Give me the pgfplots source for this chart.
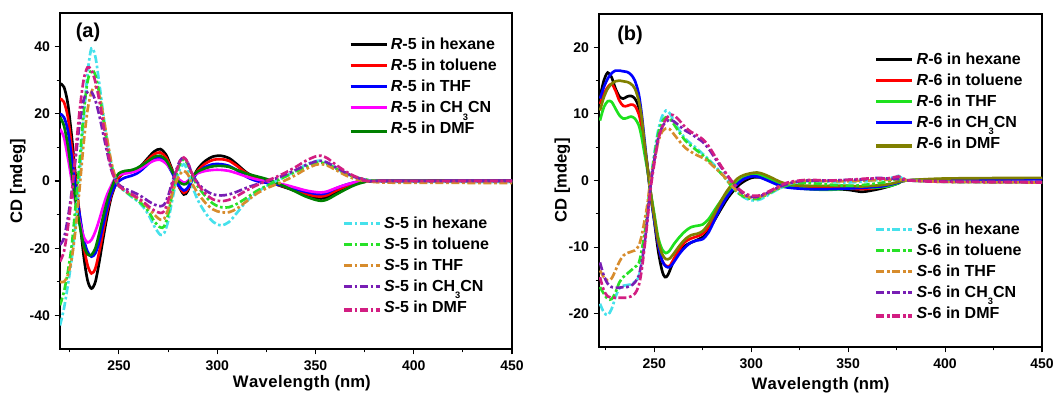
\documentclass[border=0pt]{standalone}
\usepackage{pgfplots}
\pgfplotsset{compat=1.18}
\usepackage{fontspec}
\setmainfont{Liberation Sans}

% curve colours
\definecolor{cBlack}{RGB}{0,0,0}
\definecolor{cRed}{RGB}{255,0,0}
\definecolor{cBlue}{RGB}{0,0,255}
\definecolor{cMag}{RGB}{255,0,255}
\definecolor{cDGreen}{RGB}{0,128,0}
\definecolor{cGreen}{RGB}{30,225,30}
\definecolor{cOlive}{RGB}{128,128,0}
\definecolor{cCyan}{RGB}{70,225,235}
\definecolor{cLGreen}{RGB}{40,225,40}
\definecolor{cOrange}{RGB}{215,140,45}
\definecolor{cPurple}{RGB}{120,30,180}
\definecolor{cPink}{RGB}{210,30,130}

\newcommand{\sub}[1]{\raisebox{-0.9ex}{\fontsize{7}{7}\selectfont #1}}
% last legend row sits a little lower (below the subscripted entry)
\newcommand{\low}[1]{\raisebox{-4pt}{#1}}

\pgfplotsset{
  cdpanel/.style={
    scale only axis,
    axis line style={line width=0.8pt},
    tick align=outside, xtick pos=left, ytick pos=left,
    major tick length=4pt, minor tick length=2.5pt,
    tick style={black, line width=0.8pt},
    xmax=450, xtick={250,300,350,400,450},
    minor xtick={225,275,325,375,425},
    /pgf/number format/assume math mode=true,
    ticklabel style={font=\bfseries\fontsize{10.5}{11}\selectfont},
    xticklabel style={yshift=-1pt},
    label style={font=\bfseries\fontsize{12.5}{13}\selectfont},
    xlabel={W\kern0.3pt a\kern0.3pt v\kern0.3pt e\kern0.3pt l\kern0.3pt e\kern0.3pt n\kern0.3pt g\kern0.3pt t\kern0.3pt h (nm)},
    ylabel={CD [mdeg]},
    legend style={draw=none, fill=none, font=\bfseries\fontsize{12}{12.5}\selectfont,
      legend cell align=left, row sep=1.5pt, anchor=north west},
    legend image code/.code={\draw[#1, line width=2.4pt] (0pt,0pt) -- (27pt,0pt);},
  },
  lowentry/.style={legend image code/.code={\draw[##1, line width=2.4pt] (0pt,-4pt) -- (27pt,-4pt);}},
  Rl/.style={line width=2pt, smooth, tension=0.5},
  Sl/.style={line width=2pt, smooth, tension=0.5, dash pattern=on 6pt off 2pt on 2pt off 2pt},
}

\begin{document}
\begin{tikzpicture}
\useasboundingbox (0,0) rectangle (798pt,295.5pt);

% ---------------- panel (a): compound 5 ----------------
\begin{axis}[cdpanel,
  at={(45pt,33.75pt)}, anchor=south west,
  width=339pt, height=252pt,
  xmin=220, ymin=-50, ymax=50,
  ytick={-40,-20,0,20,40}, minor ytick={-30,-10,10,30},
  xlabel style={at={(axis description cs:0.535,-0.103)}, anchor=center},
  ylabel style={at={(axis description cs:-0.093,0.5)}, anchor=center},
  legend style={at={(axis description cs:0.63,0.942)}},
]
\addplot[Rl, cBlack] coordinates {(220,29) (222,28) (224,23) (226,13) (228,1) (230,-11) (232,-22) (234,-29.5) (236,-32) (238,-30) (240,-24) (242,-17) (244,-10.5) (246,-5) (248,-1.5) (250,1) (253,2.5) (256,3) (259,3.5) (262,5) (265,7) (268,8.8) (271,9.5) (274,7.8) (277,3.5) (280,-1) (283,-4) (285,-3) (287,0) (290,3.5) (294,6) (298,7.3) (302,7.5) (306,6.8) (310,5) (315,2.5) (320,1) (325,0) (330,-1) (335,-2) (340,-3) (345,-4.2) (350,-5) (353,-5.2) (356,-4.8) (360,-3.5) (365,-2) (370,-0.8) (375,-0.2) (380,0) (390,0) (400,0) (420,0) (450,0.1)};
\addlegendentry{\textit{R}-5 in hexane}
\addplot[Rl, cRed] coordinates {(220,24.5) (222,23.5) (224,19) (226,10) (228,0) (230,-10) (232,-19) (234,-25) (236,-27.5) (238,-26) (240,-21) (242,-15) (244,-9) (246,-4.5) (248,-1.3) (250,1.2) (253,2.6) (256,3) (259,3.5) (262,4.8) (265,6.5) (268,8) (271,8.5) (274,7) (277,3.2) (280,-1) (283,-3.5) (285,-2.5) (287,0) (290,3) (294,5.2) (298,6.3) (302,6.5) (306,6) (310,4.5) (315,2.3) (320,1) (325,0) (330,-1) (335,-1.8) (340,-2.8) (345,-3.8) (350,-4.5) (353,-4.6) (356,-4.2) (360,-3) (365,-1.7) (370,-0.7) (375,-0.2) (380,0) (450,0.1)};
\addlegendentry{\textit{R}-5 in toluene}
\addplot[Rl, cBlue] coordinates {(220,20) (222,19) (224,15) (226,7) (228,-2) (230,-10) (232,-17) (234,-21) (236,-22.5) (238,-21.5) (240,-18) (242,-13) (244,-8) (246,-4) (248,-1.5) (250,0) (253,1) (256,1.5) (259,2.2) (262,3.5) (265,5.2) (268,6.5) (271,6.8) (274,5.5) (277,2.5) (280,-1) (283,-2.8) (285,-2) (287,0) (290,2.5) (294,4.2) (298,5) (302,5) (306,4.5) (310,3.2) (315,1.2) (320,0) (325,-0.5) (330,-1) (335,-1.6) (340,-2.4) (345,-3.2) (350,-3.8) (353,-3.9) (356,-3.5) (360,-2.3) (365,-1.2) (370,-0.4) (375,0) (380,0) (450,0.1)};
\addlegendentry{\textit{R}-5 in THF}
\addplot[Rl, cMag] coordinates {(220,15.5) (222,13) (224,7) (226,0) (228,-7) (230,-12) (232,-16.5) (234,-18.3) (236,-17.5) (238,-15) (240,-11.5) (242,-7.5) (244,-4) (246,-1.5) (248,0.8) (250,1.8) (253,2.2) (256,2.5) (259,3) (262,4) (265,5.2) (268,6.1) (271,6.3) (274,5.2) (277,3) (280,0.8) (283,-0.5) (285,0) (287,1.2) (290,2.3) (294,3) (298,3.3) (302,3.3) (306,3) (310,2.3) (315,1.3) (320,0.5) (325,0) (330,-0.6) (335,-1.2) (340,-2) (345,-2.8) (350,-3.3) (353,-3.4) (356,-3.1) (360,-2.2) (365,-1.2) (370,-0.4) (375,0) (380,0) (450,0.1)};
\addlegendentry{\textit{R}-5 in CH\sub{3}CN}
\addplot[Rl, cDGreen, lowentry] coordinates {(220,19) (222,16.5) (224,10.5) (226,2) (228,-6) (230,-13) (232,-19) (234,-21.8) (236,-22) (238,-20) (240,-15.5) (242,-10.5) (244,-6) (246,-2.5) (248,0.5) (250,2.3) (253,3) (256,3.2) (259,3.8) (262,4.8) (265,6) (268,7.2) (271,7.5) (274,6.2) (277,3) (280,0) (283,-1) (285,-0.5) (287,1.2) (290,2.8) (294,3.8) (298,4.4) (302,4.5) (306,4.2) (310,3.3) (315,2.2) (320,1.4) (325,0.6) (330,-0.5) (335,-1.8) (340,-3.2) (345,-4.6) (350,-5.6) (353,-5.9) (356,-5.5) (360,-4.2) (365,-2.6) (370,-1.2) (375,-0.3) (380,0) (450,0)};
\addlegendentry{\low{\textit{R}-5 in DMF}}
\addplot[Sl, cCyan, forget plot] coordinates {(220,-43) (222,-38) (224,-31) (226,-23) (228,-12) (230,2) (232,18) (234,32) (236,39.5) (238,37) (240,29) (242,20) (244,12) (246,5.5) (248,1) (250,-1.5) (253,-3) (256,-4.5) (259,-5.8) (262,-7.5) (265,-10) (268,-13.5) (271,-16) (273,-15.5) (275,-12) (277,-6) (279,-0.5) (281,3.5) (283,5) (285,3) (287,-1) (290,-5.5) (294,-9.5) (298,-12.2) (302,-13.2) (306,-12.2) (310,-9.5) (315,-6) (320,-3.5) (325,-1.5) (330,0) (335,1.5) (340,3) (345,4.8) (350,5.9) (353,6) (356,5.3) (360,4) (365,2.3) (370,1.1) (375,0.4) (380,0) (390,-0.2) (450,-0.3)};
\addplot[Sl, cLGreen, forget plot] coordinates {(220,-37) (222,-33) (224,-27) (226,-19) (228,-7) (230,6) (232,20) (234,29.5) (236,33) (238,31.5) (240,26) (242,18.5) (244,11) (246,5) (248,1) (250,-1.5) (253,-3) (256,-4.2) (259,-5.5) (262,-7) (265,-9) (268,-12) (271,-13.8) (273,-13.5) (275,-10) (277,-4) (279,1.5) (281,5) (283,6.5) (285,5) (287,2) (290,-1.5) (294,-4.5) (298,-6.8) (302,-7.8) (306,-7.8) (310,-6.8) (315,-5) (320,-3) (325,-1.5) (330,0) (335,1.4) (340,2.8) (345,4.2) (350,5.3) (353,5.5) (356,5) (360,3.8) (365,2.3) (370,1.2) (375,0.5) (380,0.1) (390,-0.2) (450,-0.3)};
\addplot[Sl, cOrange, forget plot] coordinates {(220,-30) (222,-30) (224,-28) (226,-23) (228,-14) (230,-2) (232,11) (234,21) (236,26.5) (238,28) (240,25.5) (242,19.5) (244,12.5) (246,6) (248,1.5) (250,-1) (253,-2.8) (256,-4) (259,-5) (262,-6.3) (265,-8) (268,-10) (271,-11.5) (273,-11.2) (275,-8.5) (277,-4) (279,-0.5) (281,2) (283,3) (285,2) (287,-0.5) (290,-3.5) (294,-6.5) (298,-8.5) (302,-9.3) (306,-9.3) (310,-8.2) (315,-6) (320,-3.8) (325,-2.2) (330,-1) (335,0.3) (340,1.8) (345,3.5) (350,4.8) (353,5) (356,4.6) (360,3.4) (365,1.8) (370,0.6) (375,0) (380,-0.3) (390,-0.5) (450,-0.6)};
\addplot[Sl, cPurple, forget plot] coordinates {(220,-19) (222,-17) (224,-11) (226,-3) (228,7) (230,17) (232,24) (234,26.5) (236,26.5) (238,24) (240,19.5) (242,14) (244,8.5) (246,3.5) (248,0.5) (250,-1.2) (253,-2.2) (256,-3) (259,-3.8) (262,-4.8) (265,-6) (268,-7) (271,-7.5) (273,-7) (275,-4.5) (277,-0.5) (279,3) (281,6) (283,7) (285,5.5) (287,2.5) (290,-0.5) (294,-2.8) (298,-4) (302,-4.3) (306,-4) (310,-3.2) (315,-2) (320,-1) (325,0) (330,0.8) (335,2) (340,3.3) (345,4.7) (350,5.8) (353,6) (356,5.5) (360,4.2) (365,2.6) (370,1.2) (375,0.4) (380,0) (450,0)};
\addplot[Sl, cPink, forget plot] coordinates {(220,-24) (222,-21) (224,-14) (226,-4) (228,9) (230,21) (232,30) (234,33.8) (236,33) (238,29.5) (240,24) (242,17) (244,10) (246,4) (248,0.5) (250,-1.5) (253,-2.8) (256,-3.8) (259,-4.8) (262,-6) (265,-7.5) (268,-8.8) (271,-9.5) (273,-9) (275,-6) (277,-1.5) (279,2.5) (281,5.8) (283,7) (285,5.5) (287,2.5) (290,-0.8) (294,-3.8) (298,-5.5) (302,-6) (306,-5.6) (310,-4.5) (315,-2.8) (320,-1.3) (325,0) (330,1.2) (335,2.6) (340,4.2) (345,6) (350,7.3) (353,7.5) (356,6.8) (360,5) (365,3) (370,1.4) (375,0.5) (380,0) (450,0)};
\node[font=\bfseries\fontsize{15}{16}\selectfont] at (axis description cs:0.062,0.943) {(a)};
\end{axis}
% second legend of panel (a)
\begin{axis}[cdpanel, hide axis,
  at={(45pt,33.75pt)}, anchor=south west,
  width=339pt, height=252pt,
  xmin=220, ymin=-50, ymax=50,
  legend style={at={(axis description cs:0.615,0.41)}},
]
\addlegendimage{Sl, cCyan}   \addlegendentry{\textit{S}-5 in hexane}
\addlegendimage{Sl, cLGreen} \addlegendentry{\textit{S}-5 in toluene}
\addlegendimage{Sl, cOrange} \addlegendentry{\textit{S}-5 in THF}
\addlegendimage{Sl, cPurple} \addlegendentry{\textit{S}-5 in CH\sub{3}CN}
\addlegendimage{Sl, cPink, lowentry} \addlegendentry{\low{\textit{S}-5 in DMF}}
\end{axis}

% ---------------- panel (b): compound 6 ----------------
\begin{axis}[cdpanel,
  at={(449.25pt,35.25pt)}, anchor=south west,
  width=332.25pt, height=249.75pt,
  xmin=221.5, ymin=-25, ymax=25,
  ytick={-20,-10,0,10,20}, minor ytick={-15,-5,5,15},
  xlabel style={at={(axis description cs:0.5,-0.116)}, anchor=center},
  ylabel style={at={(axis description cs:-0.083,0.5)}, anchor=center},
  legend style={at={(axis description cs:0.613,0.9)}},
]
\addplot[Rl, cBlack] coordinates {(222,12.5) (224,15) (226,16.2) (228,15.5) (230,13.8) (232,12.6) (234,12.3) (236,12.6) (238,12.7) (240,12.3) (242,11) (243.5,8.5) (245,5) (246.5,2) (248,-1.5) (250,-6) (252,-10.5) (254,-13.5) (255.5,-14.5) (257,-14.2) (259,-12.8) (261,-11.5) (264,-10.3) (267,-9.6) (270,-9.2) (273,-8.8) (276,-8.3) (279,-7) (282,-5.5) (285,-4) (288,-2.6) (291,-1.5) (294,-0.6) (297,0) (300,0.4) (303,0.5) (306,0.4) (310,0) (315,-0.6) (320,-1) (330,-1.1) (340,-1.2) (350,-1.4) (357,-1.7) (362,-1.5) (367,-1.2) (372,-0.8) (376,-0.4) (380,0) (400,0.1) (450,0.3)};
\addlegendentry{\textit{R}-6 in hexane}
\addplot[Rl, cRed] coordinates {(222,11.5) (224,13) (226,14) (228,14.5) (230,13.5) (232,12) (234,11.2) (236,11.2) (238,11.4) (240,11.2) (242,10) (243.5,8) (245,5) (246.5,2) (248,-1.5) (250,-5.5) (252,-9.5) (254,-12) (256,-12.8) (258,-12.8) (260,-11.8) (263,-10.3) (266,-9.2) (269,-8.7) (272,-8.4) (275,-8) (278,-7) (281,-5.5) (284,-4) (287,-2.6) (290,-1.4) (293,-0.5) (296,0.2) (300,0.7) (303,0.8) (306,0.6) (310,0.1) (315,-0.5) (320,-0.9) (330,-1.1) (340,-1.1) (350,-1.2) (357,-1.3) (362,-1.2) (367,-1) (372,-0.7) (376,-0.3) (380,0) (400,0.1) (450,0.3)};
\addlegendentry{\textit{R}-6 in toluene}
\addplot[Rl, cGreen] coordinates {(222,9) (224,11) (226,11.9) (228,11.8) (230,10.8) (232,9.8) (234,9.3) (236,9.4) (238,9.6) (240,9.3) (242,8.3) (243.5,6.5) (245,4) (246.5,1.5) (248,-1.5) (250,-5) (252,-8.5) (254,-10.3) (256,-10.9) (258,-10.5) (260,-9.6) (263,-8.5) (266,-7.6) (269,-7) (272,-6.8) (275,-6.6) (278,-5.8) (281,-4.5) (284,-3.2) (287,-2) (290,-1) (293,-0.2) (296,0.4) (300,0.8) (303,0.9) (306,0.7) (310,0.1) (315,-0.6) (320,-1) (330,-1.3) (340,-1.4) (350,-1.2) (357,-1) (362,-1.1) (367,-1) (372,-0.8) (376,-0.4) (380,0) (400,0.2) (450,0.3)};
\addlegendentry{\textit{R}-6 in THF}
\addplot[Rl, cBlue] coordinates {(222,12.3) (224,14) (226,15.3) (228,16.1) (230,16.5) (232,16.5) (234,16.4) (236,16.3) (238,15.9) (240,15) (242,13) (243.5,10) (245,6) (246.5,2) (248,-2) (250,-6) (252,-9.5) (254,-12) (256,-12.9) (258,-13) (260,-12.3) (263,-11) (266,-10) (269,-9.3) (272,-9) (275,-8.8) (278,-7.8) (281,-6) (284,-4.2) (287,-2.7) (290,-1.5) (293,-0.5) (296,0.2) (300,0.6) (303,0.6) (306,0.3) (310,-0.2) (315,-0.8) (320,-1.1) (330,-1.3) (340,-1.3) (350,-1.2) (357,-1.1) (362,-1) (367,-0.9) (372,-0.6) (376,-0.3) (380,0) (400,0.1) (450,0.2)};
\addlegendentry{\textit{R}-6 in CH\sub{3}CN}
\addplot[Rl, cOlive, lowentry] coordinates {(222,10.5) (224,12.5) (226,13.8) (228,14.5) (230,14.9) (232,15) (234,14.9) (236,14.8) (238,14.5) (240,13.8) (242,12) (243.5,9.5) (245,5.5) (246.5,2) (248,-1.8) (250,-5.5) (252,-9) (254,-11) (256,-11.8) (258,-11.7) (260,-11) (263,-9.8) (266,-8.8) (269,-8.2) (272,-8) (275,-7.6) (278,-6.5) (281,-5) (284,-3.3) (287,-1.8) (290,-0.6) (293,0.3) (296,0.8) (300,1.1) (303,1.2) (306,1) (310,0.5) (315,-0.2) (320,-0.6) (330,-0.8) (340,-0.8) (350,-0.8) (357,-0.9) (362,-0.8) (367,-0.7) (372,-0.5) (376,-0.2) (380,0) (400,0.3) (450,0.4)};
\addlegendentry{\low{\textit{R}-6 in DMF}}
\addplot[Sl, cCyan, forget plot] coordinates {(222,-18.5) (224,-19.8) (226,-20.2) (228,-19.3) (230,-17.5) (232,-16.2) (234,-15.8) (236,-15.7) (238,-15.6) (240,-15.2) (242,-14.5) (243.5,-12) (245,-9) (246.5,-5) (248,-0.5) (250,4) (252,7.5) (254,9.6) (256,10.5) (258,10.1) (260,9) (263,7.5) (266,6.3) (269,5.5) (272,4.8) (275,4) (278,3.2) (281,2.3) (284,1.3) (287,0.3) (290,-0.8) (293,-1.8) (296,-2.5) (299,-2.9) (302,-3) (305,-2.8) (308,-2.3) (312,-1.6) (316,-1) (320,-0.5) (325,-0.2) (330,-0.1) (340,-0.2) (350,-0.3) (360,-0.1) (368,0.2) (374,0.5) (376,0.7) (378,0.3) (382,0) (400,-0.2) (450,-0.3)};
\addplot[Sl, cLGreen, forget plot] coordinates {(222,-16) (224,-17) (226,-17.8) (228,-17.8) (230,-16.8) (232,-15.3) (234,-14.5) (236,-14) (238,-13.5) (240,-13) (242,-12.4) (243.5,-10.5) (245,-8) (246.5,-4.5) (248,-0.5) (250,3.5) (252,7) (254,8.8) (256,9.5) (258,9.3) (260,8.5) (263,7.2) (266,6) (269,5.2) (272,4.5) (275,3.8) (278,3) (281,2.1) (284,1.2) (287,0.2) (290,-0.9) (293,-1.8) (296,-2.4) (299,-2.7) (302,-2.8) (305,-2.6) (308,-2.1) (312,-1.5) (316,-1) (320,-0.6) (325,-0.4) (330,-0.4) (340,-0.6) (350,-0.8) (360,-0.6) (368,-0.3) (374,0.1) (378,0.1) (382,0) (400,-0.2) (450,-0.3)};
\addplot[Sl, cOrange, forget plot] coordinates {(222,-13.5) (224,-14.5) (226,-15) (228,-14.7) (230,-13.5) (232,-12.2) (234,-11.3) (236,-10.9) (238,-10.7) (240,-10.5) (242,-9.8) (243.5,-8.3) (245,-6) (246.5,-3.5) (248,0) (250,3) (252,5.8) (254,7.3) (256,7.8) (258,7.7) (260,7) (263,5.9) (266,4.9) (269,4.3) (272,3.8) (275,3.4) (278,2.8) (281,2) (284,1.2) (287,0.3) (290,-0.8) (293,-1.6) (296,-2.2) (299,-2.5) (302,-2.6) (305,-2.4) (308,-2) (312,-1.4) (316,-0.8) (320,-0.4) (325,-0.1) (330,0) (340,-0.1) (350,-0.1) (360,0) (368,0.1) (374,0.1) (378,0.1) (382,0) (400,-0.2) (450,-0.3)};
\addplot[Sl, cPurple, forget plot] coordinates {(222,-12.3) (224,-14.3) (226,-15.5) (228,-16) (230,-16.1) (232,-16.1) (234,-16) (236,-16) (238,-15.8) (240,-15.3) (242,-14.3) (243.5,-12.3) (245,-9.5) (246.5,-5.5) (248,-1) (250,3) (252,6.3) (254,8) (256,8.8) (258,9.1) (260,8.9) (263,8.2) (266,7.5) (269,7) (272,6.4) (275,5.8) (278,4.8) (281,3.5) (284,2.2) (287,1) (290,-0.2) (293,-1.2) (296,-2) (299,-2.4) (302,-2.5) (305,-2.3) (308,-1.9) (312,-1.3) (316,-0.8) (320,-0.4) (325,-0.1) (330,0) (340,0) (350,0.1) (360,0.2) (365,0.4) (370,0.3) (376,0.2) (382,0) (400,-0.1) (450,-0.2)};
\addplot[Sl, cPink, forget plot] coordinates {(222,-14.5) (224,-16.5) (226,-17.4) (228,-17.6) (230,-17.6) (232,-17.6) (234,-17.6) (236,-17.6) (238,-17.4) (240,-17) (242,-15.8) (243.5,-13.5) (245,-10) (246.5,-6) (248,-1.5) (250,2.5) (252,6) (254,8) (256,9.2) (258,9.8) (260,9.8) (263,9) (266,8) (269,7.3) (272,6.8) (275,6.2) (278,5.2) (281,3.8) (284,2.4) (287,1.1) (290,-0.1) (293,-1.1) (296,-1.8) (299,-2.2) (302,-2.3) (305,-2.2) (308,-1.8) (312,-1.2) (316,-0.6) (320,-0.2) (325,0) (330,0.1) (340,0) (350,0.1) (360,0.3) (365,0.3) (370,0.3) (376,0.6) (378,0.4) (382,0) (400,-0.2) (450,-0.3)};
\node[font=\bfseries\fontsize{15}{16}\selectfont] at (axis description cs:0.07,0.937) {(b)};
\end{axis}
% second legend of panel (b)
\begin{axis}[cdpanel, hide axis,
  at={(449.25pt,35.25pt)}, anchor=south west,
  width=332.25pt, height=249.75pt,
  xmin=221.5, ymin=-25, ymax=25,
  legend style={at={(axis description cs:0.613,0.39)}},
]
\addlegendimage{Sl, cCyan}   \addlegendentry{\textit{S}-6 in hexane}
\addlegendimage{Sl, cLGreen} \addlegendentry{\textit{S}-6 in toluene}
\addlegendimage{Sl, cOrange} \addlegendentry{\textit{S}-6 in THF}
\addlegendimage{Sl, cPurple} \addlegendentry{\textit{S}-6 in CH\sub{3}CN}
\addlegendimage{Sl, cPink, lowentry} \addlegendentry{\low{\textit{S}-6 in DMF}}
\end{axis}
\end{tikzpicture}
\end{document}
